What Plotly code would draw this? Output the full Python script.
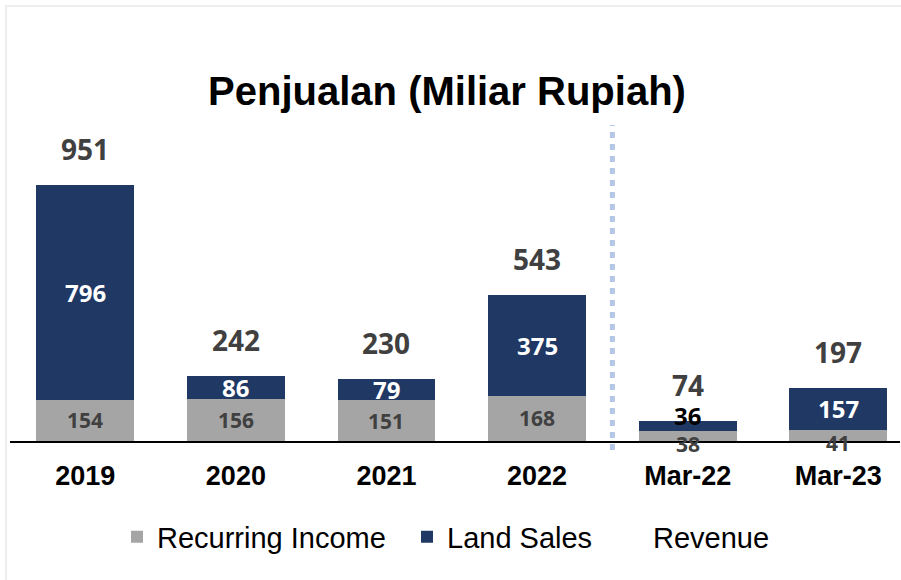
import plotly.graph_objects as go

categories = ["2019", "2020", "2021", "2022", "Mar-22", "Mar-23"]
recurring_income = [154, 156, 151, 168, 38, 41]
land_sales = [796, 86, 79, 375, 36, 157]
revenue = [951, 242, 230, 543, 74, 197]

W, H = 901, 580
ML, MR, MT, MB = 10, 1, 5, 139
PW = W - ML - MR
PH = H - MT - MB

NAVY = "#1f3864"
GRAY = "#a5a5a5"
DARK = "#404040"
NUMFONT = "Open Sans"
SANS = "Liberation Sans, Arial, sans-serif"

fig = go.Figure()
fig.add_bar(x=categories, y=recurring_income, name="Recurring Income",
            marker=dict(color=GRAY, line=dict(width=0)), hoverinfo="skip",
            legendwidth=245)
fig.add_bar(x=categories, y=land_sales, name="Land Sales",
            marker=dict(color=NAVY, line=dict(width=0)), hoverinfo="skip",
            legendwidth=161)
fig.add_scatter(x=categories, y=revenue, name="Revenue", mode="lines",
                line=dict(width=0, color="rgba(0,0,0,0)"), hoverinfo="skip",
                legendwidth=120)

ann = []
for i, c in enumerate(categories):
    r, l, t = recurring_income[i], land_sales[i], revenue[i]
    ann.append(dict(x=i, y=t, text=str(t), showarrow=False, yshift=36,
                    font=dict(family=NUMFONT, size=28, color=DARK, weight="bold")))
    small = l < 50
    ann.append(dict(x=i, y=r + l / 2, text=str(l), showarrow=False,
                    yshift=10 if small else 0,
                    font=dict(family=NUMFONT, size=24,
                              color="#000000" if small else "#ffffff", weight="bold")))
    ann.append(dict(x=i, y=r / 2, text=str(r), showarrow=False,
                    yshift=-8 if r < 50 else 0,
                    font=dict(family=NUMFONT, size=21, color=DARK, weight="bold")))

def px_x(p):
    return (p - ML) / PW

def px_y(p):
    return (MT + PH - p) / PH

shapes = [
    dict(type="line", xref="x", yref="paper", x0=3.5, x1=3.5,
         y0=px_y(450), y1=px_y(125),
         line=dict(color="#b4c7e7", width=5, dash="6px,6px")),
    dict(type="rect", xref="paper", yref="paper",
         x0=px_x(6), x1=px_x(910), y0=px_y(590), y1=px_y(6),
         line=dict(color="#eeeeee", width=2), fillcolor="rgba(0,0,0,0)", layer="below"),
]

fig.update_layout(
    width=W, height=H,
    margin=dict(l=ML, r=MR, t=MT, b=MB),
    paper_bgcolor="white", plot_bgcolor="white",
    barmode="stack", bargap=0.35,
    title=dict(text="Penjualan (Miliar Rupiah)", x=px_x(447), xref="paper",
               xanchor="center", y=1 - 91 / H, yanchor="middle",
               font=dict(family=SANS, size=40, color="#000000", weight="bold")),
    xaxis=dict(range=[-0.5, 5.41], showline=True, linecolor="#000000", linewidth=2,
               showgrid=False, zeroline=False, ticks="", ticklabelstandoff=10,
               tickfont=dict(family=SANS, size=27, color="#000000", weight="bold"),
               fixedrange=True),
    yaxis=dict(range=[0, PH / 0.2692], visible=False, showgrid=False, zeroline=False,
               fixedrange=True),
    legend=dict(orientation="h", x=px_x(117), xanchor="left",
                y=px_y(537), yanchor="middle",
                font=dict(family=SANS, size=29, color="#000000"),
                bgcolor="rgba(0,0,0,0)", traceorder="normal"),
    annotations=ann,
    shapes=shapes,
    showlegend=True,
)

fig.write_html("out.html", config={"displayModeBar": False},
               post_script="document.body.style.margin='0';document.body.style.overflow='hidden';")
